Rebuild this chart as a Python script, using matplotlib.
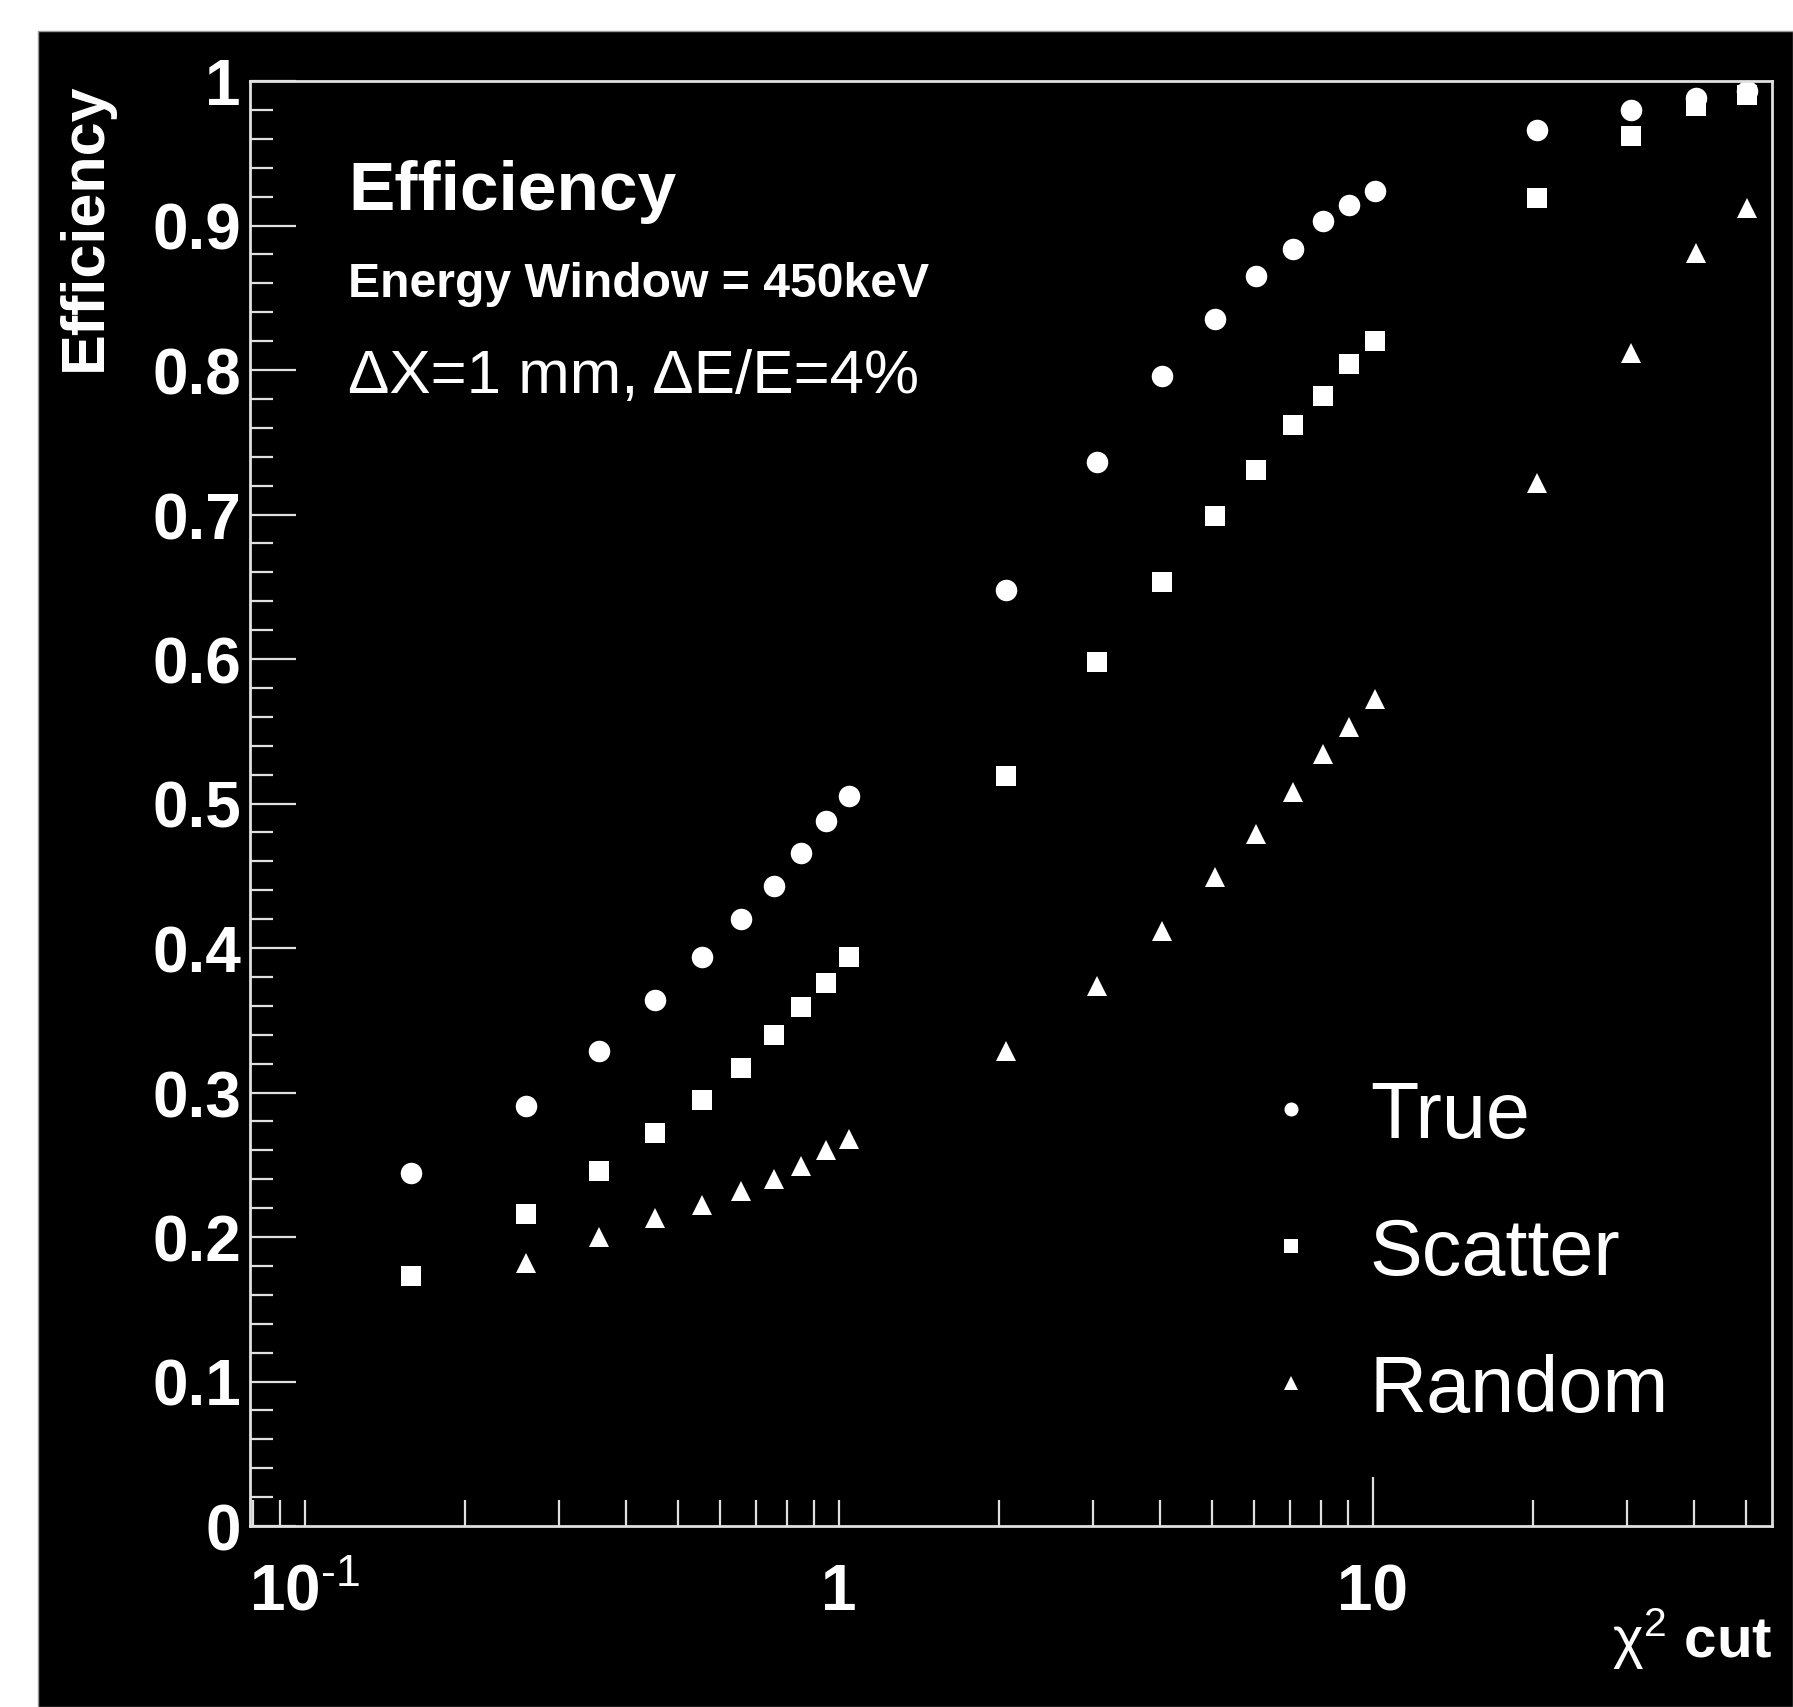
import numpy as np
import matplotlib
matplotlib.use("Agg")
import matplotlib.pyplot as plt
from matplotlib.patches import Rectangle
from matplotlib.ticker import FixedLocator, FixedFormatter, LogLocator, NullFormatter, MultipleLocator

plt.rcParams['font.family'] = ['Liberation Sans', 'DejaVu Sans']
plt.rcParams['mathtext.fontset'] = 'custom'
plt.rcParams['mathtext.rm'] = 'Liberation Sans'
plt.rcParams['mathtext.it'] = 'Liberation Sans:italic'
plt.rcParams['mathtext.bf'] = 'Liberation Sans:bold'

# chi2 cut values and efficiencies
chi2_cut = [0.158, 0.26, 0.356, 0.453, 0.554, 0.656, 0.756, 0.851, 0.949, 1.047,
            2.06, 3.05, 4.04, 5.07, 6.06, 7.09, 8.06, 9.03, 10.1,
            20.3, 30.5, 40.4, 50.3]
eff_true = [0.244, 0.291, 0.329, 0.364, 0.394, 0.420, 0.443, 0.466, 0.488, 0.505,
            0.648, 0.736, 0.796, 0.835, 0.865, 0.884, 0.903, 0.914, 0.924,
            0.966, 0.980, 0.988, 0.993]
eff_scatter = [0.173, 0.216, 0.246, 0.272, 0.295, 0.317, 0.340, 0.359, 0.376, 0.394,
               0.519, 0.598, 0.653, 0.699, 0.731, 0.762, 0.782, 0.804, 0.820,
               0.919, 0.962, 0.983, 0.990]
eff_random = [np.nan, 0.182, 0.200, 0.213, 0.222, 0.232, 0.240, 0.249, 0.260, 0.268,
              0.329, 0.374, 0.412, 0.449, 0.479, 0.508, 0.534, 0.553, 0.572,
              0.722, 0.812, 0.881, 0.912]

xticks = [0.1, 1, 10]
xtick_labels = [r'$\mathbf{10}^{\text{-}\mathrm{1}}$', '1', '10']
yticks = [0, 0.1, 0.2, 0.3, 0.4, 0.5, 0.6, 0.7, 0.8, 0.9, 1.0]
ytick_labels = ['0', '0.1', '0.2', '0.3', '0.4', '0.5', '0.6', '0.7', '0.8', '0.9', '1']

fg = '#e0e0e0'

fig = plt.figure(figsize=(17.93, 17.08), dpi=100, facecolor='white')
# black canvas with a white strip on top and left
fig.patches.append(Rectangle((38 / 1793, 0), 1 - 38 / 1793, 1 - 32 / 1708,
                             transform=fig.transFigure, facecolor='black',
                             edgecolor='#999999', linewidth=1, zorder=-1))

ax = fig.add_axes([250 / 1793, 1 - 1527 / 1708, 1522 / 1793, 1445 / 1708])
ax.set_facecolor('black')

ax.plot(chi2_cut, eff_true, 'o', color='white', ms=15.5, mew=0, label='True', clip_on=False)
ax.plot(chi2_cut, eff_scatter, 's', color='white', ms=15, mew=0, label='Scatter', clip_on=False)
ax.plot(chi2_cut, eff_random, '^', color='white', ms=14.5, mew=0, label='Random', clip_on=False)

ax.set_xscale('log')
ax.set_xlim(0.079, 56)
ax.set_ylim(0, 1)

for s in ax.spines.values():
    s.set_color(fg)
    s.set_linewidth(2)

ax.xaxis.set_major_locator(FixedLocator(xticks))
ax.xaxis.set_major_formatter(FixedFormatter(xtick_labels))
ax.xaxis.set_minor_locator(LogLocator(base=10, subs=np.arange(2, 10)))
ax.xaxis.set_minor_formatter(NullFormatter())
ax.yaxis.set_major_locator(FixedLocator(yticks))
ax.yaxis.set_major_formatter(FixedFormatter(ytick_labels))
ax.yaxis.set_minor_locator(MultipleLocator(0.02))

ax.tick_params(axis='both', which='both', direction='in', colors=fg, width=1.6,
               top=False, right=False)
ax.tick_params(axis='y', which='major', length=33, pad=6.5, labelsize=46)
ax.tick_params(axis='y', which='minor', length=16.5)
ax.tick_params(axis='x', which='major', length=19, pad=60, labelsize=46)
ax.tick_params(axis='x', which='minor', length=19)
for lab in ax.get_xticklabels() + ax.get_yticklabels():
    lab.set_color('white')
    lab.set_fontweight('bold')
for lab in ax.get_xticklabels():
    lab.set_va('baseline')
# the tick at 10 is drawn longer
ax.xaxis.get_major_ticks()[2].tick1line.set_markersize(35)

ax.set_ylabel('Efficiency', fontsize=44, fontweight='bold', color='white', loc='top')
ax.yaxis.set_label_coords(-136 / 1522, 1.0)
ax.set_xlabel(r'$\mathrm{\chi}^{2}\ \mathbf{cut}$', fontsize=42, color='white')
ax.xaxis.label.set_ha('right')
ax.xaxis.label.set_va('baseline')
ax.xaxis.set_label_coords(1.0, -(1658 - 1527) / 1445)

ax.text(0.0644, 0.9114, 'Efficiency', transform=ax.transAxes, fontsize=50,
        fontweight='bold', color='white', va='baseline')
ax.text(0.0644, 0.8512, 'Energy Window = 450keV', transform=ax.transAxes, fontsize=34.7,
        fontweight='bold', color='white', va='baseline')
ax.text(0.0644, 0.7848, '\u0394X=1 mm, \u0394E/E=4%', transform=ax.transAxes, fontsize=44.6,
        color='white', va='baseline')

leg = ax.legend(loc='upper left', bbox_to_anchor=(0.6577, 0.3093), frameon=False,
                fontsize=57, markerscale=0.65, handlelength=1.0, handletextpad=0.5,
                labelspacing=0.78, borderpad=0, borderaxespad=0)
for t in leg.get_texts():
    t.set_color('white')

fig.savefig('out.png', dpi=100, facecolor=fig.get_facecolor())
